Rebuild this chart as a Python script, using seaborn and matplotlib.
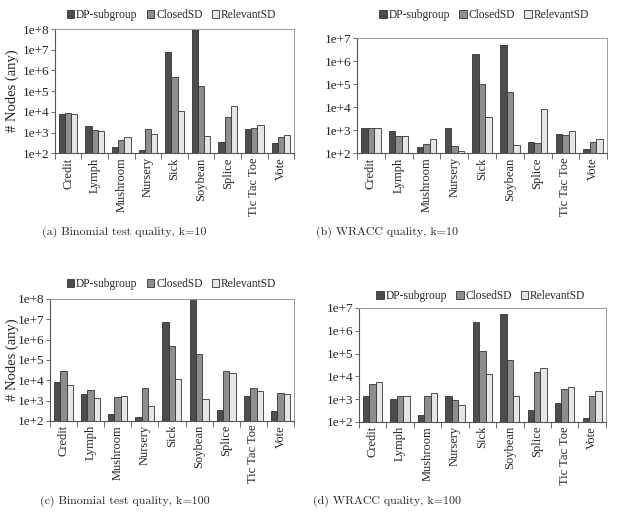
import numpy as np
import matplotlib
matplotlib.use('Agg')
import matplotlib.pyplot as plt
from matplotlib.ticker import FixedLocator, FuncFormatter, NullLocator
import pandas as pd
import seaborn as sns

# DATA
datasets = ['Credit', 'Lymph', 'Mushroom', 'Nursery', 'Sick',
            'Soybean', 'Splice', 'Tic Tac Toe', 'Vote']
methods = ['DP-subgroup', 'ClosedSD', 'RelevantSD']

# (a) Binomial test quality, k=10
a_dp = [7.6e3, 2.1e3, 210, 150, 7.7e6, 3e8, 340, 1.5e3, 300]
a_closed = [8.5e3, 1.3e3, 420, 1.45e3, 4.7e5, 1.7e5, 5.5e3, 1.6e3, 590]
a_relevant = [8.0e3, 1.15e3, 590, 830, 1.15e4, 690, 1.9e4, 2.2e3, 740]

# (b) WRACC quality, k=10
b_dp = [1.25e3, 940, 190, 1.3e3, 2.0e6, 5.0e6, 320, 650, 150]
b_closed = [1.25e3, 550, 245, 195, 1.0e5, 4.5e4, 290, 600, 310]
b_relevant = [1.3e3, 550, 410, 130, 3.7e3, 220, 8.2e3, 910, 410]

# (c) Binomial test quality, k=100
c_dp = [7.7e3, 2.1e3, 210, 150, 7.7e6, 3e8, 350, 1.6e3, 310]
c_closed = [2.7e4, 3.3e3, 1.5e3, 4.2e3, 5.0e5, 2.0e5, 2.9e4, 4.2e3, 2.4e3]
c_relevant = [5.7e3, 1.3e3, 1.7e3, 550, 1.1e4, 1.25e3, 2.2e4, 3.0e3, 2.1e3]

# (d) WRACC quality, k=100
d_dp = [1.3e3, 1.0e3, 200, 1.4e3, 2.3e6, 5.3e6, 330, 680, 150]
d_closed = [4.8e3, 1.35e3, 1.3e3, 950, 1.3e5, 5.2e4, 1.6e4, 2.9e3, 1.4e3]
d_relevant = [5.6e3, 1.4e3, 1.9e3, 575, 1.2e4, 1.35e3, 2.2e4, 3.3e3, 2.3e3]

captions = ['(a) Binomial test quality, k=10', '(b) WRACC quality, k=10',
            '(c) Binomial test quality, k=100', '(d) WRACC quality, k=100']
ytops = [1e8, 1e7, 1e8, 1e7]

# STYLE
sns.set_theme(style='white')
plt.rcParams['font.family'] = ['Liberation Serif', 'DejaVu Serif']
colors = ['#4d4d4d', '#8e8e8e', '#e6e6e6']


def make_df(dp, closed, relevant):
    rows = []
    for vals, m in zip([dp, closed, relevant], methods):
        for d, v in zip(datasets, vals):
            rows.append({'dataset': d, 'method': m, 'nodes': v})
    return pd.DataFrame(rows)


panels = [make_df(a_dp, a_closed, a_relevant),
          make_df(b_dp, b_closed, b_relevant),
          make_df(c_dp, c_closed, c_relevant),
          make_df(d_dp, d_closed, d_relevant)]

# axes rectangles (fig fractions)
rects = [[0.088, 0.711, 0.385, 0.234],
         [0.574, 0.711, 0.402, 0.217],
         [0.080, 0.206, 0.393, 0.230],
         [0.577, 0.204, 0.397, 0.215]]
legend_pos = [(0.276, 0.972), (0.778, 0.972), (0.276, 0.464), (0.773, 0.442)]
caption_pos = [(0.200, 0.562), (0.622, 0.562), (0.200, 0.054), (0.622, 0.054)]

fig = plt.figure(figsize=(6.22, 5.30), dpi=100)

for i, df in enumerate(panels):
    ax = fig.add_axes(rects[i])
    ax.set_yscale('log')
    sns.barplot(data=df, x='dataset', y='nodes', hue='method',
                palette=colors, width=0.7, edgecolor='#333333',
                linewidth=0.6, ax=ax, legend=True)
    ax.set_ylim(1e2, ytops[i])
    ax.set_xlim(-0.5, len(datasets) - 0.5)
    decades = np.arange(2, int(np.log10(ytops[i])) + 1)
    ax.yaxis.set_major_locator(FixedLocator(10.0 ** decades))
    ax.yaxis.set_minor_locator(NullLocator())
    ax.yaxis.set_major_formatter(
        FuncFormatter(lambda v, p: '1e+%d' % int(round(np.log10(v)))))
    ax.tick_params(axis='y', which='major', left=True, length=3,
                   width=0.6, color='#555555', labelsize=9.5, pad=1)
    ax.tick_params(axis='x', which='major', length=0, labelsize=9,
                   labelrotation=90, pad=3)
    ax.set_xticks(np.arange(len(datasets) + 1) - 0.5, minor=True)
    ax.tick_params(axis='x', which='minor', bottom=True, length=4,
                   width=0.6, color='#555555')
    ax.set_xlabel('')
    ax.set_ylabel('')
    for s in ['top', 'right']:
        ax.spines[s].set_color('#9a9a9a')
        ax.spines[s].set_linewidth(0.7)
    for s in ['left', 'bottom']:
        ax.spines[s].set_color('#555555')
        ax.spines[s].set_linewidth(0.8)

    handles, labels = ax.get_legend_handles_labels()
    ax.legend(handles, labels, loc='center', ncol=3, frameon=False,
              bbox_to_anchor=legend_pos[i], bbox_transform=fig.transFigure,
              fontsize=8.3, handlelength=0.65, handleheight=0.65,
              handletextpad=0.15, columnspacing=0.8, borderpad=0)

    fig.text(caption_pos[i][0], caption_pos[i][1], captions[i],
             ha='center', va='center', fontsize=8.6,
             family=['cmr10', 'DejaVu Serif'])

# y labels on left panels
fig.text(0.020, 0.828, '# Nodes (any)', rotation=90, ha='center',
         va='center', fontsize=10.5)
fig.text(0.020, 0.321, '# Nodes (any)', rotation=90, ha='center',
         va='center', fontsize=10.5)

fig.savefig('out.png', dpi=100)
